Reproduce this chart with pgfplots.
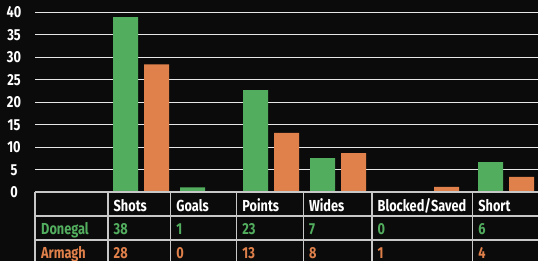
\documentclass[border=0pt]{standalone}
\usepackage{pgfplots}
\pgfplotsset{compat=1.18}
\usepackage{fontspec}
\setmainfont{Fira Sans}[FakeStretch=0.8]
\definecolor{bg}{HTML}{0B0B0B}
\definecolor{dg}{HTML}{52AE5E}
\definecolor{ao}{HTML}{E0804A}
\definecolor{gridc}{HTML}{E6E6E6}
\definecolor{tabc}{HTML}{C8C8C8}
\newcommand{\tf}{\fontsize{16}{18}\selectfont\bfseries}
\begin{document}
\begin{tikzpicture}
\fill[bg] (0,0) rectangle (538bp,261bp);
\begin{axis}[
  at={(35bp,68.7bp)}, anchor=south west, scale only axis,
  width=503bp, height=192.3bp,
  xmin=35, xmax=538, ymin=0, ymax=42.733,
  axis line style={draw=none},
  xtick=\empty, ytick={0,5,...,40},
  ymajorgrids, grid style={gridc, line width=1.3bp},
  major tick length=0,
  /pgf/number format/assume math mode=true,
  yticklabel style={anchor=center, xshift=-21bp, text=white, font=\tf},
  ybar, bar width=25bp, clip=false]
\addplot[fill=dg, draw=none, bar shift=-15.5bp] coordinates {(141,38.9) (208,1.1) (271,22.7) (338,7.6) (431,0) (506,6.7)};
\addplot[fill=ao, draw=none, bar shift=15.5bp] coordinates {(141,28.4) (208,0) (271,13.2) (338,8.7) (431,1.2) (506,3.4)};
\end{axis}
\begin{scope}[x=1bp,y=1bp]
\draw[tabc, line width=1.3bp] (35,69) -- (538,69) (35,45) -- (538,45) (35,21) -- (538,21);
\foreach \xx in {35,108,170.7,236.7,303.3,372,472.7} {\draw[tabc, line width=1.3bp] (\xx,69) -- (\xx,-3);}
\foreach \xx/\t in {108/Shots,170.7/Goals,236.7/Points,303.3/Wides,372/Blocked\slash Saved,472.7/Short}
  {\node[anchor=base west, inner sep=0, text=white, font=\tf] at (\xx+5.5,50) {\t};}
\node[anchor=base west, inner sep=0, text=dg, font=\tf] at (41,26.5) {Donegal};
\node[anchor=base west, inner sep=0, text=ao, font=\tf] at (41,2.5) {Armagh};
\foreach \xx/\t in {108/38,170.7/1,236.7/23,303.3/7,372/0,472.7/6}
  {\node[anchor=base west, inner sep=0, text=dg, font=\tf] at (\xx+5.5,26.5) {\t};}
\foreach \xx/\t in {108/28,170.7/0,236.7/13,303.3/8,372/1,472.7/4}
  {\node[anchor=base west, inner sep=0, text=ao, font=\tf] at (\xx+5.5,2.5) {\t};}
\end{scope}
\pgfresetboundingbox
\useasboundingbox (0,0) rectangle (538bp,261bp);
\end{tikzpicture}
\end{document}
